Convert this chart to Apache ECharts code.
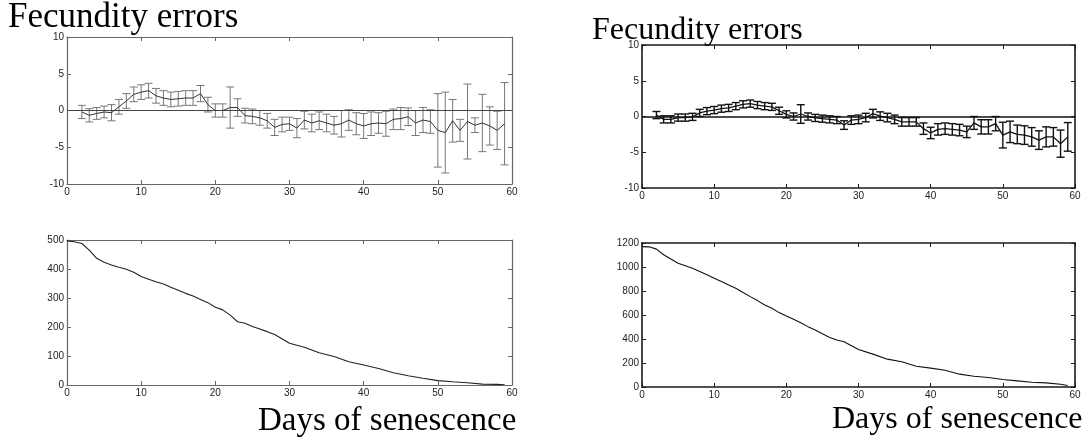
<!DOCTYPE html>
<html><head><meta charset="utf-8">
<script src="https://cdn.jsdelivr.net/npm/echarts@6/dist/echarts.min.js"></script>
<style>html,body{margin:0;padding:0;background:#fff}#c{width:1091px;height:438px}</style>
</head><body><div id="c"></div>
<script>
// ---- data ----
const errDays = [2,3,4,5,6,7,8,9,10,11,12,13,14,15,16,17,18,19,20,21,22,23,24,25,26,27,28,29,30,31,32,33,34,35,36,37,38,39,40,41,42,43,44,45,46,47,48,49,50,51,52,53,54,55,56,57,58,59];
const leftMean = [-0.2,-0.65,-0.4,-0.2,-0.3,0.5,1.3,2.2,2.5,2.7,2.0,1.7,1.5,1.6,1.7,1.7,2.3,0.8,0.0,0.0,0.4,0.4,-0.7,-0.8,-1.0,-1.4,-2.3,-1.9,-1.8,-2.4,-1.3,-1.7,-1.4,-1.7,-2.0,-1.8,-1.3,-1.8,-2.1,-1.8,-1.7,-1.8,-1.2,-1.1,-0.85,-1.7,-1.3,-1.5,-2.7,-3.0,-1.4,-2.7,-1.5,-2.0,-1.7,-2.1,-2.7,-1.8];
const leftErr = [0.9,0.9,0.8,0.8,1.1,1.0,1.0,1.0,1.0,1.0,1.0,1.0,1.0,1.0,1.0,1.0,1.1,1.0,0.9,0.9,2.8,1.2,1.0,1.0,1.0,1.0,1.1,1.0,0.9,1.3,1.2,1.2,1.2,1.2,1.2,1.8,1.4,1.5,1.7,1.6,1.4,1.7,1.4,1.5,1.2,1.7,1.7,1.6,5.0,5.5,2.9,1.5,5.1,1.0,3.9,2.6,2.6,5.6];
const rightMean = [0.2,-0.4,-0.4,-0.15,-0.15,-0.05,0.5,0.75,0.9,1.1,1.2,1.45,1.7,1.8,1.6,1.45,1.35,0.8,0.3,0.0,0.35,0.0,-0.2,-0.3,-0.4,-0.5,-1.2,-0.5,-0.4,-0.15,0.4,0.05,-0.15,-0.4,-0.75,-0.75,-0.75,-1.7,-2.3,-1.8,-1.7,-1.8,-1.9,-2.15,-0.9,-1.45,-1.45,-1.0,-2.6,-2.15,-2.5,-2.6,-2.85,-3.3,-2.85,-2.85,-3.8,-2.85];
const rightErr = [0.5,0.5,0.5,0.5,0.5,0.5,0.5,0.5,0.5,0.5,0.5,0.5,0.5,0.5,0.5,0.5,0.5,0.5,0.5,0.5,1.3,0.5,0.5,0.5,0.5,0.5,0.6,0.6,0.6,0.6,0.6,0.6,0.6,0.6,0.6,0.6,0.6,0.8,0.8,0.8,0.8,0.8,0.8,0.8,0.9,1.0,1.0,1.0,1.8,1.5,1.3,1.3,1.3,1.3,1.4,1.3,1.9,2.0];
const survDaysLeft = [0,1,2,3,4,5,6,7,8,9,10,11,12,13,14,15,16,17,18,19,20,21,22,23,24,25,26,27,28,30,32,34,36,38,40,42,44,46,48,50,52,54,56,58,59];
const survLeft = [497,494,488,465,437,423,414,406,399,389,374,365,356,348,337,327,316,307,295,284,268,259,241,218,213,202,193,184,174,144,130,111,98,80,69,57,42,32,23,15,11,8,3,2,1];
const survDaysRight = [0,1,2,3,4,5,6,7,8,9,10,11,12,13,14,15,16,17,18,19,20,21,22,23,24,25,26,27,28,30,32,34,36,38,40,42,44,46,48,50,52,54,56,58,59];
const survRight = [1170,1168,1149,1102,1066,1032,1010,990,963,935,907,879,851,823,787,753,720,684,656,620,592,564,536,503,475,443,413,391,377,313,274,232,210,173,157,140,107,90,79,62,51,40,34,23,12];
const xTicks = [0,10,20,30,40,50,60];
const titleTop = 'Fecundity errors';
const titleBottom = 'Days of senescence';

// ---- layout ----
const grids = [
  {left:67, top:37, width:445, height:147},
  {left:642, top:45, width:433, height:143},
  {left:67, top:240, width:445, height:145},
  {left:642, top:243, width:433, height:144}
];
const axisCols = ['#666','#1a1a1a','#666','#1a1a1a'];
const yRanges = [[-10,10,5],[-10,10,5],[0,500,100],[0,1200,200]];
const lab = {fontFamily:'Liberation Sans', fontSize:10, color:'#222', formatter: v => String(v)};

const xAxis = [], yAxis = [];
grids.forEach((g,i)=>{
  const col = axisCols[i], w = (i%2===1)?1.6:1.2;
  const common = {type:'value', gridIndex:i, min:0, max:60, interval:10, splitLine:{show:false},
    axisLine:{show:true, onZero:false, lineStyle:{color:col, width:w}},
    axisTick:{show:true, inside:true, length:4, lineStyle:{color:col, width:1}}};
  xAxis.push(Object.assign({}, common, {position:'bottom', axisLabel:Object.assign({margin:3}, lab)}));
  xAxis.push(Object.assign({}, common, {position:'top', axisLabel:{show:false}}));
  const r = yRanges[i];
  const yc = {type:'value', gridIndex:i, min:r[0], max:r[1], interval:r[2], splitLine:{show:false},
    axisLine:{show:true, onZero:false, lineStyle:{color:col, width:w}},
    axisTick:{show:true, inside:true, length:4, lineStyle:{color:col, width:1}}};
  yAxis.push(Object.assign({}, yc, {position:'left', axisLabel:Object.assign({margin:3}, lab)}));
  yAxis.push(Object.assign({}, yc, {position:'right', axisLabel:{show:false}}));
});

function errSeries(gi, means, errs, col, lw, cap){
  return {
    type:'custom', xAxisIndex:gi*2, yAxisIndex:gi*2, clip:true, z:3,
    data: errDays.map((d,k)=>[d, means[k], errs[k]]),
    renderItem: function(params, api){
      const x = api.value(0), m = api.value(1), e = api.value(2);
      const t = api.coord([x, m+e]), b = api.coord([x, m-e]);
      const st = {stroke:col, lineWidth:lw};
      return {type:'group', children:[
        {type:'line', shape:{x1:t[0], y1:t[1], x2:b[0], y2:b[1]}, style:st},
        {type:'line', shape:{x1:t[0]-cap, y1:t[1], x2:t[0]+cap, y2:t[1]}, style:st},
        {type:'line', shape:{x1:b[0]-cap, y1:b[1], x2:b[0]+cap, y2:b[1]}, style:st}
      ]};
    }
  };
}
function meanSeries(gi, means, col, lw, zcol, zw){
  return {
    type:'line', xAxisIndex:gi*2, yAxisIndex:gi*2, symbol:'none', z:4,
    data: errDays.map((d,k)=>[d, means[k]]),
    lineStyle:{color:col, width:lw},
    markLine:{silent:true, symbol:'none', label:{show:false},
      lineStyle:{color:zcol, width:zw, type:'solid'}, data:[{yAxis:0}]}
  };
}
function survSeries(gi, days, vals, col){
  return {type:'line', xAxisIndex:gi*2, yAxisIndex:gi*2, symbol:'none',
    data: days.map((d,k)=>[d, vals[k]]), lineStyle:{color:col, width:1.1}};
}

const serif = 'Liberation Serif';
const option = {
  animation:false,
  backgroundColor:'#fff',
  grid: grids,
  xAxis: xAxis,
  yAxis: yAxis,
  graphic: [
    {type:'text', left:8, top:0, style:{text:titleTop, font:'35px "'+serif+'"', fill:'#000'}},
    {type:'text', left:592, top:15, style:{text:titleTop, font:'32px "'+serif+'"', fill:'#000'}},
    {type:'text', left:258, top:405, style:{text:titleBottom, font:'33px "'+serif+'"', fill:'#000'}},
    {type:'text', left:832, top:404, style:{text:titleBottom, font:'32px "'+serif+'"', fill:'#000'}}
  ],
  series: [
    errSeries(0, leftMean, leftErr, '#777', 1, 4),
    meanSeries(0, leftMean, '#333', 1, '#444', 1),
    errSeries(1, rightMean, rightErr, '#111', 1.4, 4),
    meanSeries(1, rightMean, '#111', 1.3, '#111', 1.5),
    survSeries(2, survDaysLeft, survLeft, '#222'),
    survSeries(3, survDaysRight, survRight, '#111')
  ]
};
const chart = echarts.init(document.getElementById('c'), null, {renderer:'canvas'});
chart.setOption(option);
</script>
</body></html>
